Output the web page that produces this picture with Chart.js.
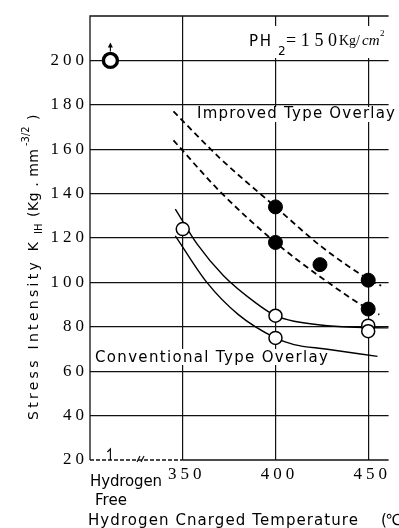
<!DOCTYPE html>
<html>
<head>
<meta charset="utf-8">
<script src="https://cdn.jsdelivr.net/npm/chart.js@4.4.0/dist/chart.umd.min.js"></script>
<style>
  html, body { margin: 0; padding: 0; background: #fff; }
  #wrap { width: 399px; height: 528px; position: relative; }
</style>
</head>
<body>
<div id="wrap"><canvas id="kihChart"></canvas></div>
<script>
// tick values
const yTicks = [20, 40, 60, 80, 100, 120, 140, 160, 180, 200];
const xTicks = [350, 400, 450];

// hydrogen free specimen (did not fail, value above 200)
const freeX = [311];
const freeY = [200];

// measured points
const convX = [350, 400, 400, 450, 450];
const convY = [124, 85, 75, 80.5, 78];
const impX = [400, 400, 424, 450, 450];
const impY = [134, 118, 108, 101, 88];

// band curves
const impUpperX = [345, 370, 400, 425, 450, 457];
const impUpperY = [177, 156, 134, 116, 101.5, 98.5];
const impLowerX = [345, 370, 400, 425, 450, 456];
const impLowerY = [164, 141, 118, 102, 88, 85.5];
const convUpperX = [346, 358, 372, 389, 400, 410, 436, 461];
const convUpperY = [133, 117, 103, 91, 85, 82.5, 80, 79.5];
const convLowerX = [346, 363, 380, 400, 410, 427, 455];
const convLowerY = [121, 100, 85.5, 75, 72, 70, 66.7];

const pts = (xs, ys) => xs.map((x, i) => ({ x: x, y: ys[i] }));

const SANS = '"DejaVu Sans", sans-serif';
const SERIF = '"Liberation Serif", serif';

// draws text stretched over a given width with letter spacing
function fit(ctx, text, x, y, w) {
  ctx.letterSpacing = '0px';
  const m = ctx.measureText(text).width;
  const sp = text.length > 1 ? (w - m) / (text.length - 1) : 0;
  ctx.letterSpacing = sp + 'px';
  ctx.fillText(text, x, y);
  ctx.letterSpacing = '0px';
}

const figurePlugin = {
  id: 'figure',
  beforeDraw(chart) {
    // spaced digits on the tick labels
    chart.ctx.letterSpacing = '4px';
  },
  beforeDatasetsDraw(chart) {
    const ctx = chart.ctx;
    const a = chart.chartArea;
    const xs = chart.scales.x, ys = chart.scales.y;
    ctx.save();
    ctx.letterSpacing = '0px';

    // frame (no right border, figure is cut there)
    ctx.strokeStyle = '#111';
    ctx.lineWidth = 1.3;
    ctx.beginPath();
    ctx.moveTo(a.left, a.bottom);
    ctx.lineTo(a.left, a.top);
    ctx.lineTo(a.right, a.top);
    ctx.stroke();
    const x350 = xs.getPixelForValue(350);
    ctx.setLineDash([4, 2]);
    ctx.beginPath();
    ctx.moveTo(a.left, a.bottom);
    ctx.lineTo(x350, a.bottom);
    ctx.stroke();
    ctx.setLineDash([]);
    ctx.beginPath();
    ctx.moveTo(x350, a.bottom);
    ctx.lineTo(a.right, a.bottom);
    ctx.stroke();

    // hydrogen free tick and axis break
    const xf = xs.getPixelForValue(freeX[0]);
    ctx.lineWidth = 1.2;
    ctx.beginPath();
    ctx.moveTo(xf, a.bottom);
    ctx.lineTo(xf, a.bottom - 11);
    ctx.lineTo(xf - 3, a.bottom - 8);
    ctx.stroke();
    ctx.beginPath();
    ctx.moveTo(137, a.bottom + 2); ctx.lineTo(140, a.bottom - 4);
    ctx.moveTo(141, a.bottom + 2); ctx.lineTo(144, a.bottom - 4);
    ctx.stroke();

    // arrow over the hydrogen free point
    const yf = ys.getPixelForValue(freeY[0]);
    ctx.beginPath();
    ctx.moveTo(xf, yf - 9);
    ctx.lineTo(xf, yf - 15);
    ctx.stroke();
    ctx.beginPath();
    ctx.moveTo(xf, yf - 18);
    ctx.lineTo(xf - 2.5, yf - 13);
    ctx.lineTo(xf + 2.5, yf - 13);
    ctx.closePath();
    ctx.fillStyle = '#000';
    ctx.fill();

    // white backgrounds for labels
    ctx.fillStyle = '#fff';
    ctx.fillRect(240, 26, a.right - 240, 32);
    ctx.fillRect(192, 107, a.right - 192, 15);
    ctx.fillRect(92, 349, 240, 16);

    ctx.fillStyle = '#000';
    ctx.textBaseline = 'alphabetic';
    ctx.textAlign = 'left';

    // pressure label
    ctx.font = '15px ' + SANS;
    fit(ctx, 'PH', 249, 46, 22);
    ctx.font = '12px ' + SANS;
    ctx.fillText('2', 278, 55);
    ctx.font = '18px ' + SERIF;
    fit(ctx, '=150', 286, 46, 51);
    ctx.font = '14px ' + SERIF;
    ctx.fillText('Kg/', 339, 45);
    ctx.font = 'italic 15px ' + SERIF;
    ctx.fillText('cm', 362, 45);
    ctx.font = '9px ' + SERIF;
    ctx.fillText('2', 380, 36);

    // band labels
    ctx.font = '15px ' + SANS;
    fit(ctx, 'Improved Type Overlay', 197, 118, 198);
    fit(ctx, 'Conventional Type Overlay', 95, 362, 233);

    // x axis labels
    ctx.font = '15px ' + SANS;
    fit(ctx, 'Hydrogen', 90, 486, 72);
    fit(ctx, 'Free', 95, 505, 32);
    fit(ctx, 'Hydrogen Cnarged Temperature', 88, 525, 270);
    fit(ctx, '(\u2103)', 381, 525, 26);

    // y axis title, rotated
    ctx.save();
    ctx.translate(38, 420);
    ctx.rotate(-Math.PI / 2);
    let p = 0;
    ctx.font = '14px ' + SANS;
    fit(ctx, 'Stress Intensity K', p, 0, 178);
    p += 186;
    ctx.font = '10px ' + SANS;
    ctx.fillText('IH', p, 4);
    p += 17;
    ctx.font = '14px ' + SANS;
    fit(ctx, '(Kg . mm', p, 0, 68);
    p += 71;
    ctx.font = '10px ' + SANS;
    ctx.fillText('-3/2', p, -9);
    p += 24;
    ctx.font = '14px ' + SANS;
    ctx.fillText(')', p + 2, 0);
    ctx.restore();

    ctx.restore();
  }
};

new Chart(document.getElementById('kihChart'), {
  type: 'scatter',
  data: {
    datasets: [
      {
        label: 'Hydrogen Free',
        data: pts(freeX, freeY),
        pointRadius: 7,
        pointBorderWidth: 3.4,
        pointBackgroundColor: '#fff',
        pointBorderColor: '#000',
      },
      {
        label: 'Conventional',
        data: pts(convX, convY),
        pointRadius: 6.5,
        pointBorderWidth: 1.5,
        pointBackgroundColor: '#fff',
        pointBorderColor: '#000',
      },
      {
        label: 'Improved',
        data: pts(impX, impY),
        pointRadius: 7,
        pointBackgroundColor: '#000',
        pointBorderColor: '#000',
      },
      {
        label: 'Improved upper',
        data: pts(impUpperX, impUpperY),
        showLine: true,
        pointRadius: 0,
        borderColor: '#000',
        borderWidth: 1.8,
        borderDash: [6, 4],
        cubicInterpolationMode: 'monotone',
      },
      {
        label: 'Improved lower',
        data: pts(impLowerX, impLowerY),
        showLine: true,
        pointRadius: 0,
        borderColor: '#000',
        borderWidth: 1.8,
        borderDash: [6, 4],
        cubicInterpolationMode: 'monotone',
      },
      {
        label: 'Conventional upper',
        data: pts(convUpperX, convUpperY),
        showLine: true,
        pointRadius: 0,
        borderColor: '#000',
        borderWidth: 1.4,
        cubicInterpolationMode: 'monotone',
      },
      {
        label: 'Conventional lower',
        data: pts(convLowerX, convLowerY),
        showLine: true,
        pointRadius: 0,
        borderColor: '#000',
        borderWidth: 1.4,
        cubicInterpolationMode: 'monotone',
      },
    ],
  },
  options: {
    responsive: true,
    maintainAspectRatio: false,
    animation: false,
    layout: { padding: { top: 16, right: 0, left: 0, bottom: 0 } },
    plugins: {
      legend: { display: false },
      tooltip: { enabled: false },
    },
    scales: {
      x: {
        type: 'linear',
        min: 300,
        max: 461,
        afterBuildTicks: (s) => { s.ticks = xTicks.map((v) => ({ value: v })); },
        afterFit: (s) => { s.height = 68; },
        border: { display: false },
        grid: { color: '#111', lineWidth: 1.2, drawTicks: false },
        ticks: {
          autoSkip: false,
          maxRotation: 0,
          padding: 4,
          labelOffset: 4,
          color: '#000',
          font: { family: 'Liberation Serif', size: 17 },
        },
      },
      y: {
        min: 20,
        max: 220,
        afterBuildTicks: (s) => { s.ticks = yTicks.map((v) => ({ value: v })); },
        afterFit: (s) => { s.width = 90; },
        border: { display: false },
        grid: {
          color: (c) => (c.tick && c.tick.value === 20 ? 'rgba(0,0,0,0)' : '#111'),
          lineWidth: 1.2,
          drawTicks: false,
        },
        ticks: {
          padding: 2,
          color: '#000',
          font: { family: 'Liberation Serif', size: 17 },
        },
      },
    },
  },
  plugins: [figurePlugin],
});
</script>
</body>
</html>
